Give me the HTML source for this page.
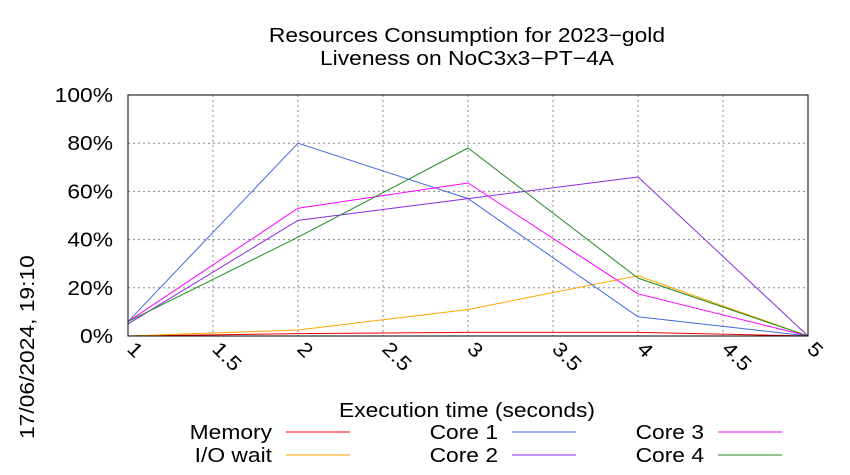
<!DOCTYPE html>
<html><head><meta charset="utf-8"><style>
body{margin:0;background:#fff}
svg{display:block;font-family:"Liberation Sans",sans-serif}
</style></head><body>
<svg id="chart" width="850" height="475" viewBox="0 0 850 475">
<text class="st" x="467" y="42" font-size="20" text-anchor="middle">Resources Consumption for 2023−gold</text>
<text class="st" x="467" y="65" font-size="20" text-anchor="middle">Liveness on NoC3x3−PT−4A</text>
<text class="st" transform="translate(34,439) rotate(-90)" font-size="20">17/06/2024, 19:10</text>
<text class="st" x="467" y="417" font-size="20" text-anchor="middle">Execution time (seconds)</text>
<g id="grid"></g><g id="ticks"></g><g id="series"></g>
<rect x="128" y="95" width="680" height="241" fill="none" stroke="#000" stroke-width="1"/>
<g id="legend"></g>
</svg>
<script>
const xTicks=[1,1.5,2,2.5,3,3.5,4,4.5,5];
const yTicks=[0,20,40,60,80,100];
const times=[1,2,3,4,5];
const memory=[0,1,1.5,1.5,0];
const ioWait=[0,2.5,11,25,0];
const core1=[6,80,57,8,0];
const core2=[5,48,57,66,0];
const core3=[6,53,63.5,17.5,0];
const core4=[6,41,78,24,0];
const NS="http://www.w3.org/2000/svg";
const X=v=>128+(v-1)*170, Y=v=>336-v*2.41;
function mk(t,a,p){const e=document.createElementNS(NS,t);for(const k in a)e.setAttribute(k,a[k]);p.appendChild(e);return e;}
const grid=document.getElementById('grid'),ticks=document.getElementById('ticks');
xTicks.forEach(t=>{
 const g=mk('line',{x1:X(t),x2:X(t),y1:95,y2:336,stroke:'#888','stroke-dasharray':'2,3','stroke-width':1},grid);
 
 
 const l=mk('text',{class:'st',transform:`translate(${X(t)-2},350) rotate(45)`,'font-size':20},ticks);
 l.textContent=t;
 
 
});
yTicks.forEach(t=>{
 const g=mk('line',{x1:128,x2:808,y1:Y(t),y2:Y(t),stroke:'#888','stroke-dasharray':'2,3','stroke-width':1},grid);
 
 
 const l=mk('text',{class:'st',x:113,y:Y(t)+7,'font-size':20,'text-anchor':'end'},ticks);
 l.textContent=t+'%';
 
 
});
const series=[['Memory',memory,'#ff0000'],['I/O wait',ioWait,'#ffa500'],['Core 1',core1,'#4169e1'],['Core 2',core2,'#8a2be2'],['Core 3',core3,'#ff00ff'],['Core 4',core4,'#228b22']];
const sg=document.getElementById('series'),lg=document.getElementById('legend');
const legPos=[[272,432],[272,455],[498,432],[498,455],[704,432],[704,455]];
series.forEach((s,i)=>{
 const p=mk('polyline',{points:times.map((t,j)=>X(t)+','+Y(s[1][j])).join(' '),fill:'none',stroke:s[2],'stroke-width':1},sg);
 
 
 const [lx,ly]=legPos[i];
 const t=mk('text',{class:'st',x:lx,y:ly+7,'font-size':20,'text-anchor':'end'},lg);
 t.textContent=s[0];
 
 
 const ln=mk('line',{x1:lx+14,x2:lx+78,y1:ly,y2:ly,stroke:s[2],'stroke-width':1},lg);
 
 
});
document.querySelectorAll('text.st').forEach(t=>{
 const w=t.getComputedTextLength();
 t.setAttribute('textLength',(w*1.14).toFixed(1));
 t.setAttribute('lengthAdjust','spacingAndGlyphs');
});
</script>
</body></html>
